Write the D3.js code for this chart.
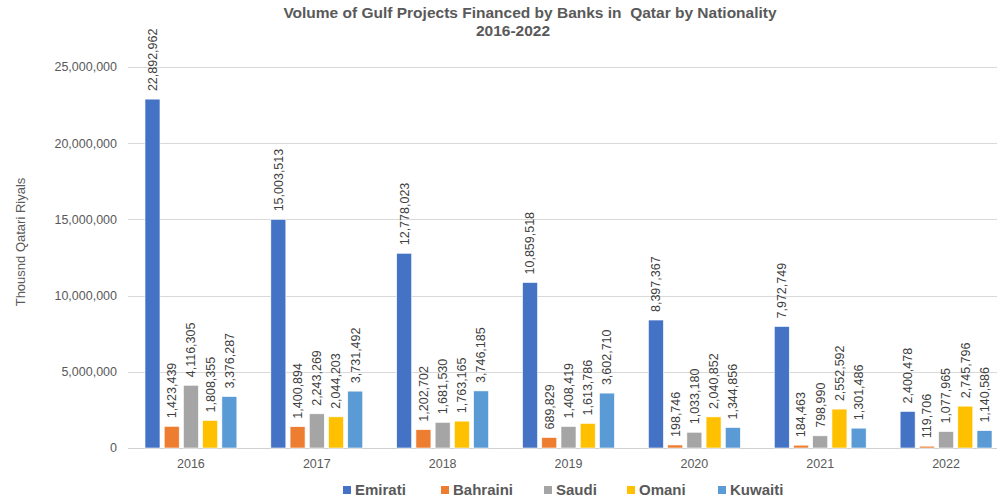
<!DOCTYPE html>
<html>
<head>
<meta charset="utf-8">
<script src="https://cdn.jsdelivr.net/npm/d3@7"></script>
<style>
  body { margin: 0; background: #fff; }
  svg { display: block; font-family: "Liberation Sans", Arial, sans-serif; }
</style>
</head>
<body>
<div class="chart"></div>
<script>
const years = ['2016', '2017', '2018', '2019', '2020', '2021', '2022'];
const nationalities = ['Emirati', 'Bahraini', 'Saudi', 'Omani', 'Kuwaiti'];

const emirati  = [22892962, 15003513, 12778023, 10859518, 8397367, 7972749, 2400478];
const bahraini = [1423439, 1400894, 1202702, 689829, 198746, 184463, 119706];
const saudi    = [4116305, 2243269, 1681530, 1408419, 1033180, 798990, 1077965];
const omani    = [1808355, 2044203, 1763165, 1613786, 2040852, 2552592, 2745796];
const kuwaiti  = [3376287, 3731492, 3746185, 3602710, 1344856, 1301486, 1140586];

const yTicks = [0, 5000000, 10000000, 15000000, 20000000, 25000000];
const colors = ['#4472C4', '#ED7D31', '#A5A5A5', '#FFC000', '#5B9BD5'];

const series = [emirati, bahraini, saudi, omani, kuwaiti];

const width = 997, height = 501;
const fmt = d3.format(',');

const svg = d3.select('.chart').append('svg')
  .attr('width', width)
  .attr('height', height);

const x0 = d3.scaleBand()
  .domain(years)
  .range([128, 1009])
  .paddingInner(0.27)
  .paddingOuter(0.135);

const x1 = d3.scaleBand()
  .domain(nationalities)
  .range([0, x0.bandwidth()])
  .paddingInner(0.22);

const y = d3.scaleLinear()
  .domain([0, 25000000])
  .range([448, 67]);

const color = d3.scaleOrdinal().domain(nationalities).range(colors);

// grid
svg.append('g')
  .selectAll('line')
  .data(yTicks)
  .join('line')
  .attr('x1', 128)
  .attr('x2', width)
  .attr('y1', d => Math.round(y(d)) + 0.5)
  .attr('y2', d => Math.round(y(d)) + 0.5)
  .attr('stroke', d => d === 0 ? '#d0d0d0' : '#d9d9d9')
  .attr('stroke-width', 1);

// y tick labels
svg.append('g')
  .selectAll('text')
  .data(yTicks)
  .join('text')
  .attr('x', 117)
  .attr('y', d => y(d))
  .attr('dy', '0.35em')
  .attr('text-anchor', 'end')
  .attr('font-size', 12.5)
  .attr('fill', '#595959')
  .text(d => fmt(d));

// y axis title
svg.append('text')
  .attr('transform', 'translate(25,242) rotate(-90)')
  .attr('text-anchor', 'middle')
  .attr('font-size', 13)
  .attr('fill', '#595959')
  .text('Thousnd Qatari Riyals');

// x labels
svg.append('g')
  .selectAll('text')
  .data(years)
  .join('text')
  .attr('x', d => x0(d) + x0.bandwidth() / 2)
  .attr('y', 468)
  .attr('text-anchor', 'middle')
  .attr('font-size', 12.5)
  .attr('fill', '#595959')
  .text(d => d);

// bars
const groups = svg.append('g')
  .selectAll('g')
  .data(years)
  .join('g')
  .attr('transform', d => `translate(${x0(d)},0)`);

const cells = groups.selectAll('g')
  .data((yr, i) => nationalities.map((n, k) => ({ n, v: series[k][i] })))
  .join('g');

cells.append('rect')
  .attr('x', d => x1(d.n))
  .attr('y', d => y(d.v))
  .attr('width', x1.bandwidth())
  .attr('height', d => y(0) - y(d.v))
  .attr('fill', d => color(d.n))
  .attr('stroke', '#fff')
  .attr('stroke-width', 0.6);

cells.append('text')
  .attr('transform', d => `translate(${x1(d.n) + x1.bandwidth() / 2},${y(d.v) - 8}) rotate(-90)`)
  .attr('dy', '0.35em')
  .attr('font-size', 12.5)
  .attr('fill', '#404040')
  .text(d => fmt(d.v));

// title
svg.append('text')
  .attr('x', 530)
  .attr('y', 18)
  .attr('text-anchor', 'middle')
  .attr('font-size', 15.5)
  .attr('font-weight', 'bold')
  .attr('fill', '#595959')
  .style('white-space', 'pre')
  .text('Volume of Gulf Projects Financed by Banks in  Qatar by Nationality');

svg.append('text')
  .attr('x', 513)
  .attr('y', 36)
  .attr('text-anchor', 'middle')
  .attr('font-size', 15.5)
  .attr('font-weight', 'bold')
  .attr('fill', '#595959')
  .text('2016-2022');

// legend
const legendX = [343, 441, 544, 627, 718];
const legend = svg.append('g')
  .selectAll('g')
  .data(nationalities)
  .join('g')
  .attr('transform', (d, i) => `translate(${legendX[i]},490)`);

legend.append('rect')
  .attr('x', 0)
  .attr('y', -4)
  .attr('width', 8)
  .attr('height', 8)
  .attr('fill', d => color(d));

legend.append('text')
  .attr('x', 12)
  .attr('y', 0)
  .attr('dy', '0.35em')
  .attr('font-size', 15)
  .attr('font-weight', 'bold')
  .attr('fill', '#595959')
  .text(d => d);
</script>
</body>
</html>
